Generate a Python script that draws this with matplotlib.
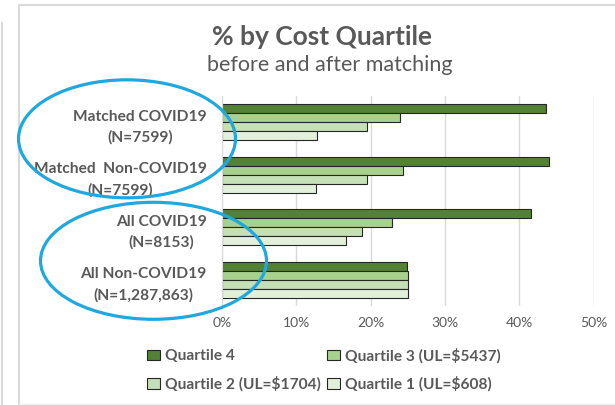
import numpy as np
import matplotlib
matplotlib.use('Agg')
import matplotlib.pyplot as plt
from matplotlib.patches import Ellipse, Patch
from matplotlib.lines import Line2D

plt.rcParams['font.family'] = ['Lato', 'DejaVu Sans']

groups = ['Matched COVID19\n(N=7599)', 'Matched  Non-COVID19\n(N=7599)',
          'All COVID19\n(N=8153)', 'All Non-COVID19\n(N=1,287,863)']
series = ['Quartile 4', 'Quartile 3 (UL=$5437)', 'Quartile 2 (UL=$1704)', 'Quartile 1 (UL=$608)']
q4 = [43.6, 44.0, 41.6, 24.9]
q3 = [24.0, 24.3, 22.9, 25.0]
q2 = [19.5, 19.5, 18.8, 25.0]
q1 = [12.8, 12.6, 16.7, 25.0]
colors = ['#548235', '#A9D18E', '#C5E0B4', '#E2F0D9']
text_col = '#595959'

fig = plt.figure(figsize=(6.15, 4.05), dpi=100)
ax = fig.add_axes([222 / 615, 1 - 306 / 405, (593.7 - 222) / 615, 210 / 405])

y = np.arange(len(groups))
h = 0.171
for i, vals in enumerate([q4, q3, q2, q1]):
    ax.barh(y + (i - 1.5) * h, vals, height=h, color=colors[i],
            edgecolor='#262626', linewidth=0.8, zorder=3)

ax.set_xlim(0, 50)
ax.set_ylim(3.5, -0.5)
ax.set_xticks(np.arange(0, 51, 10))
ax.set_xticklabels(['%d%%' % v for v in range(0, 51, 10)])
ax.set_yticks(y)
ax.set_yticklabels(groups, fontsize=11.2, fontweight='bold', color=text_col,
                   multialignment='center', linespacing=1.6)
ax.tick_params(axis='y', length=0, pad=11)
ax.tick_params(axis='x', length=0, pad=8, labelsize=10, labelcolor=text_col)
ax.grid(axis='x', color='#D9D9D9', linewidth=1, zorder=0)
for s in ['top', 'right', 'bottom']:
    ax.spines[s].set_visible(False)
ax.spines['left'].set_color('#D9D9D9')
ax.spines['left'].set_zorder(4)

fig.text(322 / 615, 1 - 37 / 405, '% by Cost Quartile', ha='center', va='center',
         fontsize=19, fontweight='bold', color=text_col)
fig.text(330 / 615, 1 - 65 / 405, 'before and after matching', ha='center', va='center',
         fontsize=15.5, color=text_col)

handles = [Patch(facecolor=c, edgecolor='#262626', linewidth=0.8) for c in colors]
order = [0, 2, 1, 3]
fig.legend([handles[i] for i in order], [series[i] for i in order], ncol=2,
           loc='upper left', bbox_to_anchor=(147 / 615, 1 - 348 / 405), frameon=False,
           prop={'size': 11.2, 'weight': 'bold'}, labelcolor=text_col,
           handlelength=0.85, handleheight=0.7, handletextpad=0.3,
           columnspacing=0.4, labelspacing=0.85, borderpad=0, borderaxespad=0)

blue = '#1FA8E0'
for cx, cy, w, hh in [(127, 138.8, 217, 118), (153.5, 260.8, 226, 117)]:
    fig.add_artist(Ellipse((cx / 615, 1 - cy / 405), w / 615, hh / 405,
                           transform=fig.transFigure, fill=False,
                           edgecolor=blue, linewidth=2.3, zorder=10))

# chart frame lines
fig.add_artist(Line2D([19 / 615, 19 / 615, 1], [0, 1 - 5 / 405, 1 - 5 / 405],
                      transform=fig.transFigure, color='#D9D9D9', linewidth=1.5))
fig.add_artist(Line2D([1.5 / 615, 1.5 / 615], [0, 1 - 23 / 405],
                      transform=fig.transFigure, color='#D9D9D9', linewidth=1.5))
fig.add_artist(Line2D([19 / 615, 1], [1 / 405, 1 / 405],
                      transform=fig.transFigure, color='#EEEEEE', linewidth=1))

fig.savefig('out.png', dpi=100)
